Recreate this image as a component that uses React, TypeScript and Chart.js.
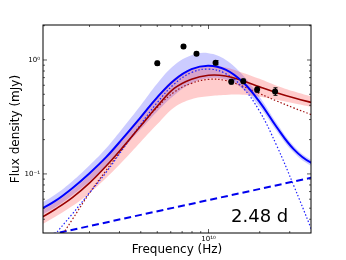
import React, { useEffect, useRef } from 'react';
import { Chart, registerables } from 'chart.js';

Chart.register(...registerables);

// ---- data ----
const FREQ = [1e9, 1.259e9, 1.585e9, 1.995e9, 2.512e9, 3.162e9, 3.981e9, 5.012e9, 6.31e9, 7.943e9, 1e10, 1.259e10, 1.585e10, 1.995e10, 2.512e10, 3.162e10, 3.981e10, 5.012e10];

const BLUE_TOTAL = [0.0475, 0.058, 0.075, 0.101, 0.141, 0.208, 0.312, 0.472, 0.668, 0.831, 0.891, 0.823, 0.643, 0.429, 0.258, 0.165, 0.126, 0.114];
const BLUE_UPPER = [0.0536, 0.0661, 0.0864, 0.1188, 0.1691, 0.2571, 0.3975, 0.6263, 0.9045, 1.103, 1.147, 1.007, 0.7407, 0.4745, 0.2797, 0.177, 0.1338, 0.1211];
const BLUE_LOWER = [0.0421, 0.0509, 0.0651, 0.0859, 0.1176, 0.1683, 0.2449, 0.3557, 0.4934, 0.6262, 0.6923, 0.6724, 0.5582, 0.3879, 0.238, 0.1538, 0.1186, 0.1073];
const BLUE_COMPONENT = [0.0185, 0.0295, 0.0445, 0.068, 0.104, 0.168, 0.27, 0.425, 0.617, 0.776, 0.832, 0.759, 0.575, 0.355, 0.178, 0.0794, 0.0339, 0.0141];

const RED_TOTAL = [0.0398, 0.049, 0.062, 0.083, 0.118, 0.174, 0.262, 0.394, 0.565, 0.6786, 0.7349, 0.7245, 0.6574, 0.5808, 0.5165, 0.4657, 0.4254, 0.3915];
const RED_UPPER = [0.0458, 0.0564, 0.0722, 0.0976, 0.1415, 0.2109, 0.3207, 0.4823, 0.6916, 0.8306, 0.8811, 0.8607, 0.7731, 0.683, 0.595, 0.5309, 0.4803, 0.442];
const RED_LOWER = [0.0345, 0.0421, 0.0522, 0.0678, 0.0926, 0.1311, 0.1896, 0.2738, 0.3849, 0.453, 0.481, 0.4935, 0.4954, 0.4745, 0.4484, 0.4169, 0.3885, 0.3612];
const RED_COMPONENT = [0.0138, 0.0234, 0.0398, 0.0676, 0.108, 0.17, 0.263, 0.385, 0.525, 0.624, 0.676, 0.661, 0.589, 0.507, 0.437, 0.38, 0.333, 0.292];

const DASH_FREQ = [1e9, 3.162e9, 1e10, 3.162e10, 5.012e10];
const DASH_FLUX = [0.0278, 0.0405, 0.0589, 0.0857, 0.0995];

const OBS_FREQ = [5.0e9, 7.13e9, 8.5e9, 1.1e10, 1.36e10, 1.6e10, 1.93e10, 2.46e10];
const OBS_FLUX = [0.935, 1.31, 1.135, 0.947, 0.645, 0.65, 0.55, 0.53];
const OBS_ERR = [0.04, 0.05, 0.04, 0.04, 0.03, 0.03, 0.03, 0.04];

const X_TICKS = [2e9, 3e9, 4e9, 5e9, 6e9, 7e9, 8e9, 9e9, 1e10, 2e10, 3e10];
const Y_TICKS = [0.04, 0.05, 0.06, 0.07, 0.08, 0.09, 0.1, 0.2, 0.3, 0.4, 0.5, 0.6, 0.7, 0.8, 0.9, 1, 2];
const X_MIN = 1.066e9;
const X_MAX = 4.0e10;
const Y_MIN = 0.0303;
const Y_MAX = 2.028;

const X_TITLE = 'Frequency (Hz)';
const Y_TITLE = 'Flux density (mJy)';
const EPOCH_LABEL = '2.48 d';

const FONT = '"DejaVu Sans", sans-serif';

const SUP: Record<string, string> = { '0': '⁰', '1': '¹', '2': '²', '3': '³', '4': '⁴', '5': '⁵', '6': '⁶', '7': '⁷', '8': '⁸', '9': '⁹', '-': '⁻' };
const isDecade = (v: number) => Math.abs(Math.log10(v) - Math.round(Math.log10(v))) < 1e-6;
const fmtDecade = (v: number) => '10' + String(Math.round(Math.log10(v))).split('').map((c) => SUP[c]).join('');

const pts = (xs: number[], ys: number[]) => xs.map((x, i) => ({ x, y: ys[i] }));

const decorPlugin = {
  id: 'decor',
  afterDatasetsDraw(chart: any) {
    const { ctx, scales } = chart;
    const xs = scales.x;
    const ys = scales.y;
    ctx.save();
    ctx.strokeStyle = '#000';
    ctx.lineWidth = 1;
    OBS_FREQ.forEach((f, i) => {
      const px = Math.round(xs.getPixelForValue(f)) + 0.5;
      const y1 = ys.getPixelForValue(OBS_FLUX[i] + OBS_ERR[i]);
      const y2 = ys.getPixelForValue(OBS_FLUX[i] - OBS_ERR[i]);
      ctx.beginPath();
      ctx.moveTo(px, y1);
      ctx.lineTo(px, y2);
      ctx.moveTo(px - 2, y1);
      ctx.lineTo(px + 2, y1);
      ctx.moveTo(px - 2, y2);
      ctx.lineTo(px + 2, y2);
      ctx.stroke();
    });
    ctx.restore();
  },
  afterDraw(chart: any) {
    const { ctx, chartArea, scales } = chart;
    const { left, right, top, bottom } = chartArea;
    ctx.save();
    ctx.strokeStyle = '#333';
    ctx.lineWidth = 0.8;
    X_TICKS.forEach((v) => {
      const px = scales.x.getPixelForValue(v);
      const len = isDecade(v) ? 4 : 2;
      ctx.beginPath();
      ctx.moveTo(px, bottom);
      ctx.lineTo(px, bottom - len);
      ctx.moveTo(px, top);
      ctx.lineTo(px, top + len);
      ctx.stroke();
    });
    Y_TICKS.forEach((v) => {
      const py = scales.y.getPixelForValue(v);
      const len = isDecade(v) ? 4 : 2;
      ctx.beginPath();
      ctx.moveTo(left, py);
      ctx.lineTo(left + len, py);
      ctx.moveTo(right, py);
      ctx.lineTo(right - len, py);
      ctx.stroke();
    });
    ctx.strokeStyle = '#000';
    ctx.lineWidth = 1;
    ctx.strokeRect(left, top, right - left, bottom - top);
    ctx.fillStyle = '#000';
    ctx.font = '18px ' + FONT;
    ctx.textAlign = 'left';
    ctx.textBaseline = 'alphabetic';
    ctx.fillText(EPOCH_LABEL, right - 80, bottom - 11.5);
    ctx.restore();
  },
};

export default function App() {
  const canvasRef = useRef<HTMLCanvasElement | null>(null);

  useEffect(() => {
    const canvas = canvasRef.current;
    if (!canvas) return;
    Chart.defaults.font.family = FONT;
    const curve = { pointRadius: 0, tension: 0.4, fill: false };
    const band = { borderWidth: 0, borderColor: 'rgba(0,0,0,0)', pointRadius: 0, tension: 0.4 };
    const chart = new Chart(canvas, {
      type: 'line',
      data: {
        datasets: [
          {
            label: 'obs',
            data: pts(OBS_FREQ, OBS_FLUX),
            showLine: false,
            pointRadius: 3,
            pointBackgroundColor: '#000',
            pointBorderColor: '#000',
            pointBorderWidth: 0,
            order: 0,
          },
          { label: 'blue total', data: pts(FREQ, BLUE_TOTAL), borderColor: '#0000ff', borderWidth: 2, ...curve, order: 1 },
          { label: 'red total', data: pts(FREQ, RED_TOTAL), borderColor: '#990000', borderWidth: 1.6, ...curve, order: 1 },
          { label: 'blue comp', data: pts(FREQ, BLUE_COMPONENT), borderColor: '#2020ff', borderWidth: 1.2, borderDash: [1.5, 2], ...curve, order: 2 },
          { label: 'red comp', data: pts(FREQ, RED_COMPONENT), borderColor: '#a01010', borderWidth: 1.2, borderDash: [1.5, 2], ...curve, order: 2 },
          { label: 'dashed', data: pts(DASH_FREQ, DASH_FLUX), borderColor: '#0000ee', borderWidth: 2, borderDash: [7, 4], pointRadius: 0, tension: 0, fill: false, order: 2 },
          { label: 'blue upper', data: pts(FREQ, BLUE_UPPER), ...band, fill: '+1', backgroundColor: 'rgba(0,0,255,0.2)', order: 5 },
          { label: 'blue lower', data: pts(FREQ, BLUE_LOWER), ...band, fill: false, order: 5 },
          { label: 'red upper', data: pts(FREQ, RED_UPPER), ...band, fill: '+1', backgroundColor: 'rgba(255,0,0,0.2)', order: 4 },
          { label: 'red lower', data: pts(FREQ, RED_LOWER), ...band, fill: false, order: 4 },
        ] as any,
      },
      options: {
        responsive: false,
        animation: false,
        devicePixelRatio: 1,
        layout: { padding: { top: 25, right: 35, bottom: 0, left: 0 } },
        plugins: { legend: { display: false }, tooltip: { enabled: false } },
        scales: {
          x: {
            type: 'logarithmic',
            min: X_MIN,
            max: X_MAX,
            bounds: 'data',
            afterBuildTicks: (s: any) => {
              s.ticks = X_TICKS.map((value) => ({ value }));
            },
            afterFit: (s: any) => {
              s.height = 27;
            },
            grid: { display: false, drawTicks: false },
            border: { display: false },
            ticks: {
              autoSkip: false,
              maxRotation: 0,
              minRotation: 0,
              padding: 2,
              color: '#000',
              font: { size: 7 },
              callback: (v: any) => (isDecade(Number(v)) ? fmtDecade(Number(v)) : ''),
            },
            title: { display: true, text: X_TITLE, color: '#000', font: { size: 12 }, padding: { top: 0, bottom: 3 } },
          },
          y: {
            type: 'logarithmic',
            min: Y_MIN,
            max: Y_MAX,
            bounds: 'data',
            afterBuildTicks: (s: any) => {
              s.ticks = Y_TICKS.map((value) => ({ value }));
            },
            afterFit: (s: any) => {
              s.width = 43;
            },
            grid: { display: false, drawTicks: false },
            border: { display: false },
            ticks: {
              autoSkip: false,
              padding: 3,
              color: '#000',
              font: { size: 7 },
              callback: (v: any) => (isDecade(Number(v)) ? fmtDecade(Number(v)) : ''),
            },
            title: { display: true, text: Y_TITLE, color: '#000', font: { size: 12 }, padding: { top: 9, bottom: 0 } },
          },
        },
      } as any,
      plugins: [decorPlugin],
    });
    return () => chart.destroy();
  }, []);

  return (
    <div style={{ position: 'fixed', left: 0, top: 0, width: 346, height: 260, background: '#fff' }}>
      <canvas ref={canvasRef} width={346} height={260} style={{ display: 'block' }} />
    </div>
  );
}
